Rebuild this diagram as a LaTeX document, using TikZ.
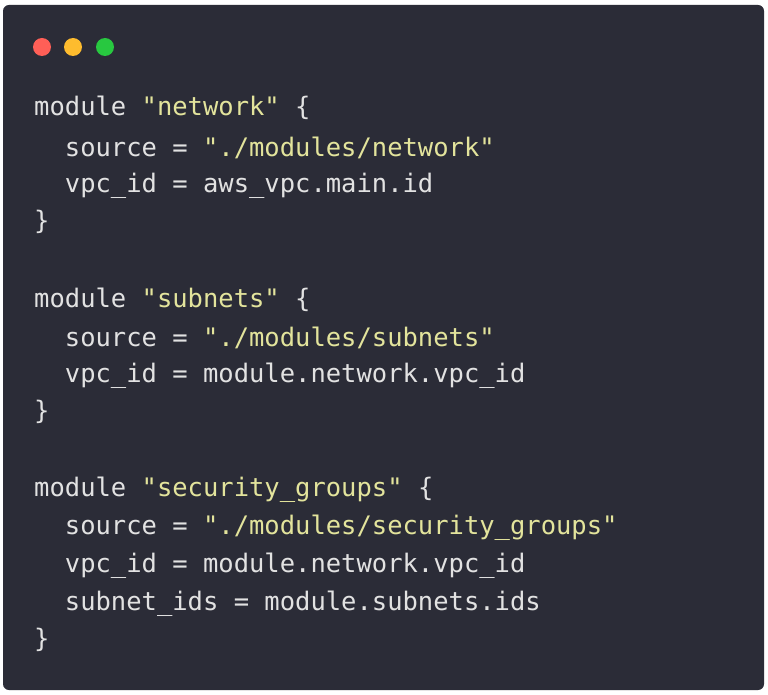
\documentclass[tikz,border=0pt]{standalone}
\usepackage{fontspec}
\setmonofont{DejaVu Sans Mono}
\definecolor{bgc}{HTML}{2B2C37}
\definecolor{txt}{HTML}{E2E2E2}
\definecolor{strc}{HTML}{E3E49C}
\definecolor{dred}{HTML}{FF5F57}
\definecolor{dyel}{HTML}{FEBC2E}
\definecolor{dgrn}{HTML}{28C840}
\newcommand{\qs}[1]{\textcolor{strc}{#1}}
\begin{document}
\begin{tikzpicture}[x=1pt,y=-1pt,
  codeline/.style={anchor=west,inner sep=0pt,text=txt,font=\ttfamily\fontsize{25.5}{30}\selectfont},
  dot/.style={circle,minimum size=18pt,inner sep=0pt}]
\useasboundingbox (0,0) rectangle (768,695);
\fill[white] (0,0) rectangle (768,695);
\fill[bgc,rounded corners=6pt] (3,5) rectangle (764,690);
\node[dot,fill=dred] (r) at (42,47) {};
\node[dot,fill=dyel] (y) at (73,47) {};
\node[dot,fill=dgrn] (g) at (105,47) {};
\node[codeline] (l1) at (34,108) {module \qs{"network"} \{};
\node[codeline] (l2) at (34,148) {\ \ source = \qs{"./modules/network"}};
\node[codeline] (l3) at (34,186) {\ \ vpc\_id = aws\_vpc.main.id};
\node[codeline] (l4) at (34,222) {\}};
\node[codeline] (l5) at (34,300) {module \qs{"subnets"} \{};
\node[codeline] (l6) at (34,338) {\ \ source = \qs{"./modules/subnets"}};
\node[codeline] (l7) at (34,376) {\ \ vpc\_id = module.network.vpc\_id};
\node[codeline] (l8) at (34,412) {\}};
\node[codeline] (l9) at (34,490) {module \qs{"security\_groups"} \{};
\node[codeline] (l10) at (34,528) {\ \ source = \qs{"./modules/security\_groups"}};
\node[codeline] (l11) at (34,566) {\ \ vpc\_id = module.network.vpc\_id};
\node[codeline] (l12) at (34,604) {\ \ subnet\_ids = module.subnets.ids};
\node[codeline] (l13) at (34,640) {\}};
\end{tikzpicture}
\end{document}
